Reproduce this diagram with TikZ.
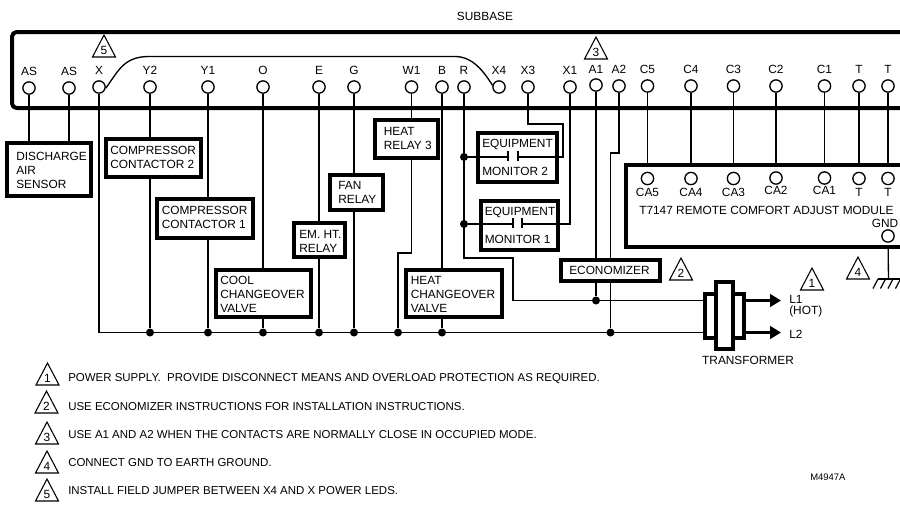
\documentclass[tikz,border=0pt]{standalone}
\usepackage{fontspec}
\setmainfont{Liberation Sans}
\usetikzlibrary{arrows.meta,backgrounds}
\tikzset{
  x=0.75pt,y=-0.75pt,
  wire/.style={line width=1pt,line join=miter},
  frameline/.style={line width=3pt,line join=round},
  boxn/.style={draw,line width=3pt,fill=white,inner sep=0pt,outer sep=0pt},
  boxtext/.style={inner sep=0pt,anchor=west,align=left,font=\fontsize{8.9}{10.5}\selectfont},
  term/.style={circle,draw,line width=1pt,fill=white,minimum size=9.2pt,inner sep=0pt},
  lab/.style={font=\fontsize{8.9}{10}\selectfont,inner sep=0pt},
  dotn/.style={circle,fill=black,minimum size=6pt,inner sep=0pt},
  tri/.style={draw,line width=0.8pt,line join=miter},
  trinum/.style={font=\fontsize{8.9}{10}\selectfont,inner sep=0pt},
  note/.style={font=\fontsize{8.6}{10}\selectfont,inner sep=0pt,anchor=west},
  arr/.style={line width=1.7pt,-{Triangle[length=8.2pt,width=9.5pt]}},
}
\newcommand{\terminal}[5]{% name, x, y, label, laby
  \node[term] (#1) at (#2,#3) {};
  \node[lab] (#1l) at (#2,#5) {#4};}
\newcommand{\ebox}[5]{% name, x1,y1,x2,y2
  \pgfmathsetmacro{\bw}{(#4-#2)*0.75}
  \pgfmathsetmacro{\bh}{(#5-#3)*0.75}
  \node[boxn,minimum width=\bw pt,minimum height=\bh pt] (#1) at ({(#2+#4)/2},{(#3+#5)/2}) {};}
\newcommand{\wbox}[8]{% name, x1,y1,x2,y2, inset, text centre y, text
  \ebox{#1}{#2}{#3}{#4}{#5}
  \node[boxtext] (#1t) at ({#2+#6},#7) {#8};}
\newcommand{\triangleNote}[4]{% name, apex x, base y, number
  \draw[tri] (#2,#3-22) -- (#2-11.5,#3) -- (#2+11.5,#3) -- cycle;
  \node[trinum] (#1) at (#2,#3-7) {#4};}
\begin{document}
\begin{tikzpicture}
\useasboundingbox (0,0) rectangle (900,508);
% subbase frame
\draw[frameline,rounded corners=3.5pt] (905,32) -- (12,32) -- (12,108) -- (905,108);
% terminals
\terminal{as1}{29}{88}{AS}{71}
\terminal{as2}{69}{88}{AS}{71}
\terminal{tx}{99}{87}{X}{70}
\terminal{ty2}{150}{87}{Y2}{70}
\terminal{ty1}{208}{87}{Y1}{70}
\terminal{to}{263}{87}{O}{70}
\terminal{te}{319}{87}{E}{70}
\terminal{tg}{354}{87}{G}{70}
\terminal{tw1}{411.5}{87}{W1}{70}
\terminal{tb}{442}{87}{B}{70}
\terminal{tr}{464}{87}{R}{70}
\terminal{tx4}{499}{87}{X4}{70}
\terminal{tx3}{528}{87}{X3}{70}
\terminal{tx1}{570}{87}{X1}{70}
\terminal{ta1}{596}{85}{A1}{69}
\terminal{ta2}{619}{86}{A2}{69}
\terminal{tc5}{647.5}{86}{C5}{69}
\terminal{tc4}{691}{86}{C4}{69}
\terminal{tc3}{733.5}{86}{C3}{69}
\terminal{tc2}{776}{86}{C2}{69}
\terminal{tc1}{824.5}{86}{C1}{69}
\terminal{tt1}{859}{86}{T}{69}
\terminal{tt2}{888}{86}{T}{69}
% jumper
\coordinate (jt1) at (149,56.5);
\coordinate (jt2) at (455,56.5);
\draw[line width=1pt] (tx.-10) .. controls (118,72) and (123,56.5) .. (jt1) -- (jt2) .. controls (473,56.5) and (484,72) .. (tx4.165);
% boxes
\wbox{b1}{7}{143}{91}{196}{9}{170}{DISCHARGE\\AIR\\SENSOR}
\wbox{b2}{106}{139}{201}{177}{4}{157.5}{COMPRESSOR\\CONTACTOR 2}
\wbox{b3}{156.5}{199}{253}{238}{5}{217.7}{COMPRESSOR\\CONTACTOR 1}
\wbox{b4}{215.5}{269.5}{311}{316.5}{4.5}{294.7}{COOL\\CHANGEOVER\\VALVE}
\wbox{b5}{294}{223}{345}{257}{5}{241}{EM. HT.\\RELAY}
\wbox{b6}{329.5}{174.5}{383}{210}{8.5}{192}{FAN\\RELAY}
\wbox{b7}{375}{120}{438}{158}{8.5}{138}{HEAT\\RELAY 3}
\wbox{b8}{406}{269.5}{502}{316.5}{4.5}{294.7}{HEAT\\CHANGEOVER\\VALVE}
\wbox{b9}{561}{259.5}{660}{281}{8}{270.7}{ECONOMIZER}
\wbox{b10}{478}{133}{557}{182}{4}{157}{EQUIPMENT\\[10.5pt]MONITOR 2}
\wbox{b11}{481}{201}{558}{250}{3.5}{225}{EQUIPMENT\\[10.5pt]MONITOR 1}
% module
\ebox{modb}{626}{165}{915}{247}
\foreach \n/\x/\y/\l/\ly in {m5/647.5/178.5/CA5/192,m4/691/178.5/CA4/192,m3/733.5/178.5/CA3/192,m2/776/178/CA2/190,m1/824.5/178/CA1/190,m6/859/178.5/T/192,m7/888/178.5/T/192}{
  \node[term] (\n) at (\x,\y) {};
  \node[lab] (\n lab) at (\x,\ly) {\l};}
\node[lab,anchor=west] (t7147) at (639,210) {T7147 REMOTE COMFORT ADJUST MODULE};
\node[lab] (gnd) at (885,223) {GND};
\node[term] (tgnd) at (888,236) {};
% ground
\coordinate (gndb) at (888.5,279);
\draw[line width=1pt] (878,279) -- (901,279);
\foreach \x in {878,885.5,893,900.5}{\draw[line width=0.9pt] (\x,279) -- (\x-5,288.5);}
% junction dots
\foreach \n/\x/\y in {d1/150/332.5,d2/208/332.5,d3/263/332.5,d4/319/332.5,d5/354/332.5,d6/398/332.5,d7/442/332.5,d8/610.5/332.5,d9/596/300.5,d10/464/157,d11/464/224}{
  \node[dotn] (\n) at (\x,\y) {};}
% transformer
\ebox{tl}{705}{293.5}{716}{338}
\ebox{trt}{733}{293.5}{743.5}{338}
\ebox{tm}{716}{282}{733}{349}
\coordinate (l1) at (781,300.5);
\coordinate (l2) at (781,332.5);
\draw[arr] (trt.east |- l1) -- (l1);
\draw[arr] (trt.east |- l2) -- (l2);
\node[lab,anchor=west] (l1t) at (789,299) {L1};
\node[lab,anchor=west] (hot) at (789,311) {(HOT)};
\node[lab,anchor=west] (l2t) at (789,334) {L2};
\node[lab] (trf) at (748,360) {TRANSFORMER};
\node[lab] (sub) at (485,16) {SUBBASE};
% contacts across the equipment monitors
\coordinate (c2a) at (508,157);
\coordinate (c2b) at (518,157);
\coordinate (c1a) at (513,224);
\coordinate (c1b) at (522,224);
\coordinate (j3) at (563,124);
\draw[wire] (d10) -- (c2a);
\draw[wire] (tx3) |- (j3) |- (c2b);
\draw[wire] (d11) -- (c1a);
\draw[wire] (tx1) |- (c1b);
\draw[line width=1pt] (508,151) -- (508,161) (518,151) -- (518,161);
\draw[line width=1pt] (513,218) -- (513,228) (522,218) -- (522,228);
% wires behind the boxes
\begin{scope}[on background layer]
\fill[white] (0,0) rectangle (900,508);
\draw[wire] (tx) |- (tl.west |- d1);
\foreach \a/\b in {ty2/d1,ty1/d2,to/d3,te/d4,tg/d5,tb/d7}{\draw[wire] (\a) -- (\b);}
\draw[wire] (as1) -- (as1 |- b1.north);
\draw[wire] (as2) -- (as2 |- b1.north);
\coordinate (jw) at (398,253);
\draw[wire] (tw1) |- (jw) -- (d6);
\coordinate (jr) at (513,258);
\draw[wire] (tr) |- (jr) |- (tl.west |- d9);
\draw[wire] (ta1) -- (d9);
\coordinate (ja) at (610.5,153);
\draw[wire] (ta2) |- (ja) -- (d8);
\foreach \a/\b in {tc5/m5,tc4/m4,tc3/m3,tc2/m2,tc1/m1,tt1/m6,tt2/m7}{\draw[wire] (\a) -- (\b);}
\draw[wire] (tgnd) -- (gndb);
\end{scope}
% triangles
\triangleNote{tr5}{104}{57}{5}
\triangleNote{tr3}{596}{59}{3}
\triangleNote{tr2}{681}{280}{2}
\triangleNote{tr1}{812}{290}{1}
\triangleNote{tr4}{858}{279}{4}
\triangleNote{n1}{47.5}{385}{1}
\triangleNote{n2}{46.5}{413}{2}
\triangleNote{n3}{47}{444}{3}
\triangleNote{n4}{47}{473}{4}
\triangleNote{n5}{47}{501}{5}
\node[note] (nt1) at (68,378.5) {POWER SUPPLY.\ \ PROVIDE DISCONNECT MEANS AND OVERLOAD PROTECTION AS REQUIRED.};
\node[note] (nt2) at (68,407) {USE ECONOMIZER INSTRUCTIONS FOR INSTALLATION INSTRUCTIONS.};
\node[note] (nt3) at (68,435) {USE A1 AND A2 WHEN THE CONTACTS ARE NORMALLY CLOSE IN OCCUPIED MODE.};
\node[note] (nt4) at (68,463) {CONNECT GND TO EARTH GROUND.};
\node[note] (nt5) at (68,491) {INSTALL FIELD JUMPER BETWEEN X4 AND X POWER LEDS.};
\node[note,font=\fontsize{7.1}{8}\selectfont] (code) at (810,477) {M4947A};
\end{tikzpicture}
\end{document}
